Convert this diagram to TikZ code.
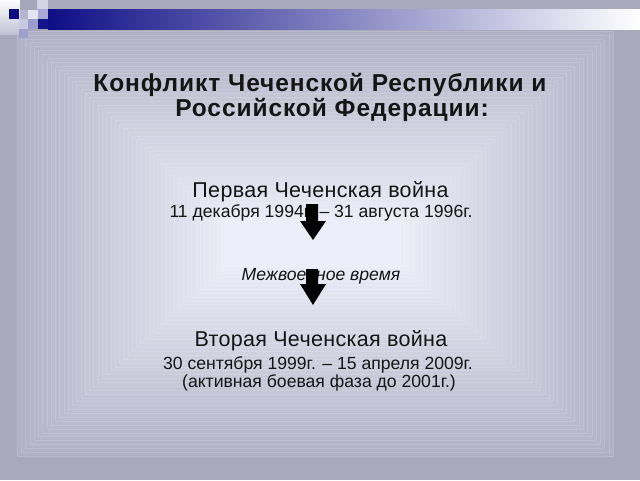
\documentclass[tikz,border=0pt]{standalone}
\usepackage{fontspec}
\setmainfont{Liberation Sans}
\begin{document}
\begin{tikzpicture}[x=1pt,y=-1pt,
  txt/.style={anchor=base,text=txtc,inner sep=0pt},
  big/.style={txt,font=\fontsize{21.5}{21.5}\selectfont\addfontfeature{LetterSpace=1.5}},
  small/.style={txt,font=\fontsize{17.6}{17.6}\selectfont},
  ttl/.style={txt,font=\bfseries\fontsize{24.5}{24.5}\selectfont\addfontfeature{LetterSpace=3.8}},
  blockarrow/.style={fill=black}]
\definecolor{bgout}{HTML}{A9A9BC}
\definecolor{frout}{HTML}{B1B1C5}
\definecolor{frin}{HTML}{EEEEFA}
\definecolor{txtc}{HTML}{151515}
\useasboundingbox (0,0) rectangle (640,480);
\fill[bgout] (0,0) rectangle (640,480);
\foreach \i in {0,...,50}{
  \pgfmathsetmacro\t{\i/50}
  \pgfmathsetmacro\p{100*\t}
  \fill[frin!\p!frout,draw=frin!\p!frout!88!white,line width=0.4pt]
    ({17+\t*213},{31+\t*194}) rectangle ({613-\t*213},{456-\t*194});
}
% top-left decoration
\shade[top color=white!90!blue!10,bottom color=blue!20!gray!40] (0,0) rectangle (20,34);
\fill[fill={rgb,255:red,12;green,12;blue,128}] (9,9) rectangle (19,19);
\fill[fill={rgb,255:red,166;green,166;blue,186}] (20,0) rectangle (37,10);
\fill[fill={rgb,255:red,212;green,212;blue,228}] (37,0) rectangle (48,9);
\fill[fill={rgb,255:red,180;green,180;blue,204}] (20,10) rectangle (28,19);
\fill[fill={rgb,255:red,228;green,228;blue,242}] (28,10) rectangle (38,19);
\fill[fill={rgb,255:red,168;green,168;blue,216}] (38,9) rectangle (48,19);
\fill[fill={rgb,255:red,200;green,200;blue,228}] (19,19) rectangle (28,29);
\fill[fill={rgb,255:red,156;green,156;blue,204}] (28,19) rectangle (38,29);
\fill[fill={rgb,255:red,20;green,20;blue,140}] (38,19) rectangle (48,29);
\fill[fill={rgb,255:red,160;green,160;blue,208}] (19,29) rectangle (28,38);
\shade[left color={rgb,255:red,14;green,14;blue,134},right color=white] (48,9) rectangle (640,29);
% texts
\node[ttl] (t1) at (320,91) {Конфликт Чеченской Республики и};
\node[ttl] (t2) at (332,116) {Российской Федерации:};
\node[big] (w1) at (320.5,197) {Первая Чеченская война};
\node[small] (d1) at (321,217) {11 декабря 1994г. – 31 августа 1996г.};
\node[small,font=\itshape\fontsize{17.6}{17.6}\selectfont] (m) at (321,280) {Межвоенное время};
\node[big] (w2) at (321,346) {Вторая Чеченская война};
\node[small] (d2) at (318,369) {30 сентября 1999г. – 15 апреля 2009г.};
\node[small] (d3) at (319,387) {(активная боевая фаза до 2001г.)};
% arrows
\fill[blockarrow] (306,204) -- (318,204) -- (318,221) -- (326,221) -- (313,240) -- (300,221) -- (306,221) -- cycle;
\fill[blockarrow] (306,269) -- (318,269) -- (318,284) -- (326,284) -- (313,305) -- (300,284) -- (306,284) -- cycle;
\end{tikzpicture}
\end{document}
